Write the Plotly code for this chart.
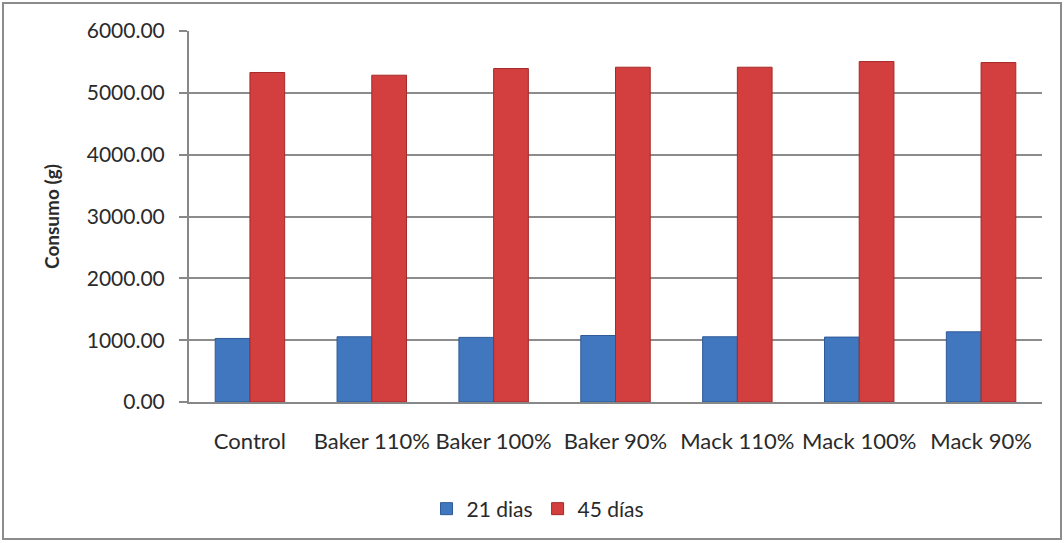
import plotly.graph_objects as go

categories = ["Control", "Baker 110%", "Baker 100%", "Baker 90%", "Mack 110%", "Mack 100%", "Mack 90%"]
dias21 = [1028, 1055, 1045, 1075, 1055, 1050, 1135]
dias45 = [5329, 5285, 5393, 5414, 5414, 5506, 5490]
y_ticks = [0, 1000, 2000, 3000, 4000, 5000, 6000]

W, H = 1064, 543
L, R, T, B = 189, 22, 31, 141
pw, ph = W - L - R, H - T - B

fig = go.Figure()
fig.add_trace(go.Bar(x=categories, y=dias21, name="21 dias",
                     marker=dict(color="#4177BE", line=dict(color="#2E5A96", width=1))))
fig.add_trace(go.Bar(x=categories, y=dias45, name="45 días",
                     marker=dict(color="#D33E3E", line=dict(color="#A52A2A", width=1))))

fig.update_layout(
    width=W, height=H,
    margin=dict(l=L, r=R, t=T, b=B),
    paper_bgcolor="white", plot_bgcolor="white",
    barmode="group", bargap=0.43, bargroupgap=0,
    font=dict(family="Lato, Open Sans, sans-serif", size=21, color="#2a2a2a"),
    showlegend=True,
    legend=dict(orientation="h", x=(538 - L) / pw, xanchor="center",
                y=(T + ph - 509) / ph, yanchor="middle",
                font=dict(size=21), itemwidth=30, tracegroupgap=0),
    xaxis=dict(showgrid=False, showline=True, linecolor="#888", linewidth=2,
               ticks="", tickfont=dict(size=22), ticklabelstandoff=19),
    yaxis=dict(range=[0, 6000], tickvals=y_ticks, tickformat=".2f",
               showgrid=True, gridcolor="#8c8c8c", gridwidth=1.5,
               showline=True, linecolor="#888", linewidth=2,
               ticks="outside", ticklen=8, tickcolor="#888", tickwidth=1.5,
               tickfont=dict(size=21), zeroline=False, ticklabelstandoff=10,
               title=dict(text="<b>Consumo (g)</b>", font=dict(size=19), standoff=22)),
    shapes=[dict(type="rect", xref="paper", yref="paper",
                 x0=(3 - L) / pw, x1=(W - 3 - L) / pw,
                 y0=(T + ph - (H - 4)) / ph, y1=(T + ph - 3) / ph,
                 line=dict(color="#8c8c8c", width=2), fillcolor="rgba(0,0,0,0)")],
)

fig.write_html("out.html")
